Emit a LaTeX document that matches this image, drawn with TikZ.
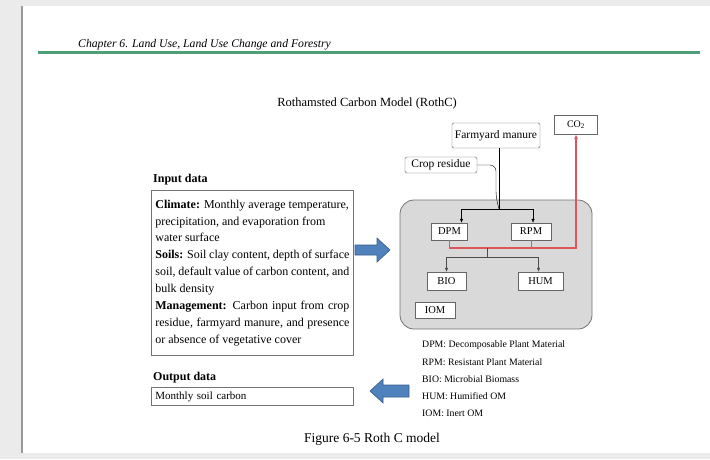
\documentclass[tikz,border=0pt]{standalone}
\usepackage{fontspec}
\setmainfont{Liberation Serif}
\usetikzlibrary{arrows.meta,positioning,calc}
\definecolor{pagebg}{HTML}{EBEBEB}
\definecolor{rulec}{HTML}{4E9F77}
\definecolor{poolbg}{HTML}{D9D9D9}
\definecolor{co}{HTML}{E05555}
\definecolor{blk}{HTML}{4F81BD}
\definecolor{blkd}{HTML}{385D8A}
\tikzset{
  pool/.style={draw=black!60, fill=white, inner sep=0pt, minimum width=36pt, minimum height=17pt, font=\fontsize{10.5}{11}\selectfont},
  src/.style={draw=black!60, fill=white, rounded corners=1.5pt, inner sep=0pt, font=\fontsize{11.5}{12}\selectfont},
  soilbox/.style={draw=black!55, fill=poolbg, rounded corners=14pt, line width=0.8pt, minimum width=192pt, minimum height=129pt},
  databox/.style={draw=black!55, line width=0.8pt, inner sep=4pt, anchor=north west},
  lbl/.style={anchor=west, inner sep=0pt, font=\fontsize{12}{14}\selectfont\bfseries},
  leg/.style={anchor=west, inner sep=0pt, font=\fontsize{9.8}{11}\selectfont},
  flow/.style={-{Latex[length=4pt,width=3.5pt]}, thin},
  loss/.style={-{Latex[length=5pt,width=4pt]}, co, line width=1.3pt},
  fat/.style={fill=blk, draw=blkd, line width=0.6pt},
}

\begin{document}
\begin{tikzpicture}[x=1pt, y=-1pt, font=\fontsize{10}{12}\selectfont]
  \useasboundingbox (0,0) rectangle (710,459);
  % page
  \fill[pagebg] (0,0) rectangle (710,459);
  \fill[white] (22,6) rectangle (710,453);
  \draw[black!40, line width=1.5pt] (22,6) -- (22,453);
  \node[anchor=base west, inner sep=0pt, font=\fontsize{11.7}{14}\selectfont\itshape] (chap) at (78,47) {Chapter 6. Land Use, Land Use Change and Forestry};
  \draw[rulec, line width=3pt] (38,52) -- (700,52);
  \node[font=\fontsize{12.5}{14}\selectfont] (title) at (367,103) {Rothamsted Carbon Model (RothC)};

  % RothC pools
  \node[soilbox] (soil) at (496,264.5) {};
  \node[pool] (dpm) at (449.5,231.5) {DPM};
  \node[pool, minimum width=40pt] (rpm) at (531,231.5) {RPM};
  \node[pool, minimum width=39pt, minimum height=18pt] (bio) at (446.5,281) {BIO};
  \node[pool, minimum width=45pt, minimum height=18pt] (hum) at (540.5,281) {HUM};
  \node[pool, minimum width=40pt, minimum height=16pt] (iom) at (435,310) {IOM};

  % inputs and CO2
  \node[src, minimum width=88pt, minimum height=25pt] (fym) at (496,135.5) {Farmyard manure};
  \node[src, minimum width=72pt, minimum height=16pt] (crop) at (441,165) {Crop residue};
  \node[src, rounded corners=0pt, minimum width=43pt, minimum height=19pt, font=\fontsize{10}{11}\selectfont] (co2) at (576,124.5) {CO\textsubscript{2}};

  \coordinate (jin) at (499,209);
  \coordinate (jcr) at (496,197);
  \coordinate (rco) at (576,248);
  \coordinate (jout) at (487,257);

  \draw (fym.south -| jin) -- (jin);
  \draw[rounded corners=6pt] (crop.east) -- (crop.east -| jcr) -- (jcr) -- (jin);
  \draw[flow] (jin) -| ([xshift=12pt]dpm.north);
  \draw[flow] (jin) -| ([xshift=2pt]rpm.north);
  \draw[loss] (dpm.south) |- (rco) -- (co2);
  \draw[co, line width=0.8pt] (rpm.south) -- (rpm.south |- rco);
  \draw[black!70] (jout |- rco) -- (jout);
  \draw[flow, black!70] (jout) -| (bio.north);
  \draw[flow, black!70] (jout) -| ([xshift=-2pt]hum.north);

  % input data
  \node[lbl] (inlbl) at (153,180) {Input data};
  \node[databox, text width=194pt, align=justify, minimum height=165pt, font=\fontsize{12}{16.9}\selectfont] (inbox) at (151,190)
    {\textbf{Climate:} Monthly average temperature,\\ precipitation, and evaporation from\\
     water surface\\
     \textbf{Soils:} Soil clay content, depth of surface\linebreak soil, default value of carbon content, and\linebreak bulk density\\
     \textbf{Management:} Carbon input from crop\linebreak residue, farmyard manure, and presence\linebreak or absence of vegetative cover};
  \draw[fat] (355,245) -- (377,245) -- (377,238) -- (390,250) -- (377,262) -- (377,255) -- (355,255) -- cycle;

  % output data
  \node[lbl] (outlbl) at (153,378) {Output data};
  \node[databox, text width=194pt, minimum height=18pt, font=\fontsize{11}{12}\selectfont] (outbox) at (151,387) {Monthly soil carbon};
  \draw[fat] (370,391) -- (383,379) -- (383,385) -- (409,385) -- (409,397) -- (383,397) -- (383,403) -- cycle;

  % legend
  \node[leg] (l1) at (422,345) {DPM: Decomposable Plant Material};
  \node[leg, below=17pt of l1.west, anchor=west] (l2) {RPM: Resistant Plant Material};
  \node[leg, below=17pt of l2.west, anchor=west] (l3) {BIO: Microbial Biomass};
  \node[leg, below=17pt of l3.west, anchor=west] (l4) {HUM: Humified OM};
  \node[leg, below=17pt of l4.west, anchor=west] (l5) {IOM: Inert OM};

  \node[font=\fontsize{13.5}{15}\selectfont] (cap) at (372,439) {Figure 6-5 Roth C model};
\end{tikzpicture}
\end{document}
